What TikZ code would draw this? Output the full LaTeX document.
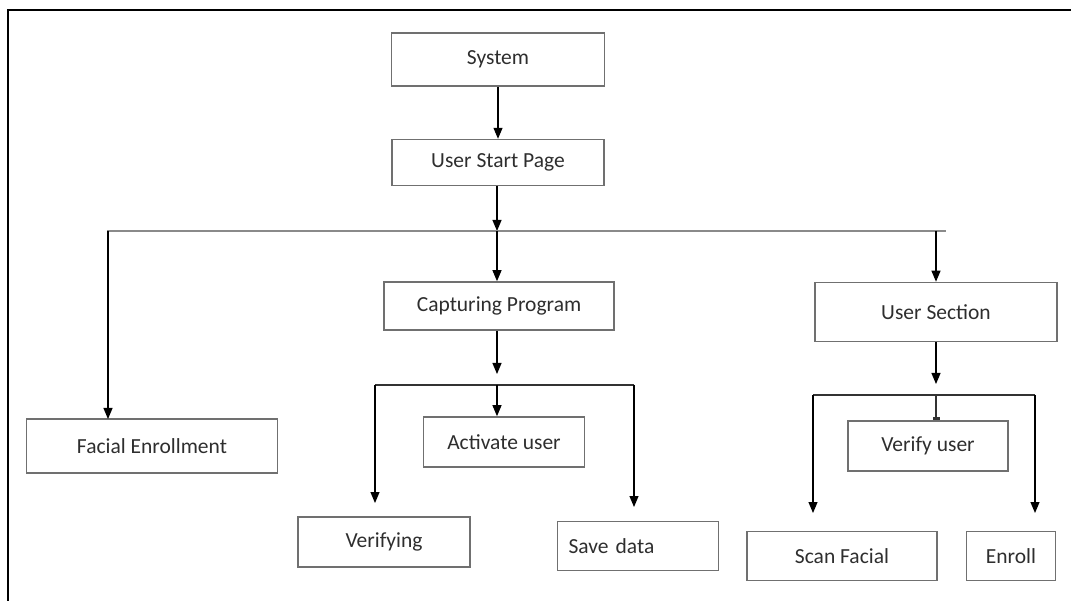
\documentclass[tikz,border=0pt]{standalone}
\usepackage{fontspec}
\setmainfont{Carlito}
\usetikzlibrary{arrows.meta, positioning}
\definecolor{boxgray}{HTML}{707070}
\definecolor{txtgray}{HTML}{2E2E2E}
\definecolor{busgray}{HTML}{8A8A8A}

\begin{document}
\begin{tikzpicture}[x=1pt,y=-1pt,
    font=\fontsize{21.5}{25}\selectfont,
    box/.style={draw=boxgray,line width=1.6pt,text=txtgray,inner sep=2pt},
    arr/.style={draw=black,line width=1.1pt,-{Triangle[length=11pt,width=9pt]}},
    bus/.style={draw=busgray,line width=2.2pt},
    drop/.style={draw=black!80,line width=1.3pt}]
    \useasboundingbox (0,0) rectangle (1071,601);
    % frame
    \draw[line width=2.2pt] (1071,10) -- (8,10) -- (8,601);

    % Add the boxes
        \node[box,minimum width=213pt,minimum height=53pt] (sys) at (498,59.5) {System};
        \node[box,minimum width=212pt,minimum height=46pt,below=52pt of sys] (usp) {User Start Page};
        \node[box,minimum width=230pt,minimum height=48pt] (cap) at (499,306) {Capturing Program};
        \node[box,minimum width=242pt,minimum height=59pt] (usec) at (936,312) {User Section};
        \node[box,minimum width=251pt,minimum height=54pt] (fe) at (152,446) {Facial Enrollment};
        \node[box,minimum width=161pt,minimum height=50pt] (act) at (504,442) {Activate user};
        \node[box,minimum width=172pt,minimum height=50pt] (verif) at (384,542) {Verifying};
        \node[box,minimum width=161pt,minimum height=49pt,text width=139pt,align=left] (save) at (638,546) {Save data};
        \node[box,minimum width=160pt,minimum height=50pt] (vu) at (928,446) {Verify user};
        \node[box,minimum width=190pt,minimum height=49pt] (scan) at (842,556) {Scan Facial};
        \node[box,minimum width=89pt,minimum height=49pt] (enr) at (1011,556) {Enroll};

    % Bus points
        \coordinate (busL) at (107,231);
        \coordinate (busR) at (946,231);
        \coordinate (busM) at (497,231);
        \coordinate (feA) at (108,419);
        \coordinate (capA) at (497,374);
        \coordinate (capL) at (375,385);
        \coordinate (capR) at (634,385);
        \coordinate (verA) at (375,503);
        \coordinate (saveA) at (634,507);
        \coordinate (usecA) at (936,384);
        \coordinate (usecL) at (813,395);
        \coordinate (usecR) at (1035,395);
        \coordinate (scanA) at (813,513);
        \coordinate (enrA) at (1035,513);

    % Connect the boxes with arrows
        \draw[arr] (usp.south -| busM) -- (busM);
        \draw[arr] (sys) -- (usp);
        \draw[bus] (busL) -- (busR);
        \draw[arr] (feA |- busL) -- (feA);
        \draw[arr] (busM) -- (cap.north -| busM);
        \draw[arr] (usec |- busL) -- (usec);

        \draw[arr] (cap.south -| capA) -- (capA);
        \draw[drop] (capL) -- (capR);
        \draw[arr] (capL) -- (verA);
        \draw[arr] (capA |- capL) -- (act.north -| capA);
        \draw[arr] (capR) -- (saveA);

        \draw[arr] (usec) -- (usecA);
        \draw[drop] (usecL) -- (usecR);
        \draw[drop,-{Rectangle[length=3pt,width=7pt]}] (usecA |- usecL) -- (vu.north -| usecA);
        \draw[arr] (usecL) -- (scanA);
        \draw[arr] (usecR) -- (enrA);
\end{tikzpicture}
\end{document}
